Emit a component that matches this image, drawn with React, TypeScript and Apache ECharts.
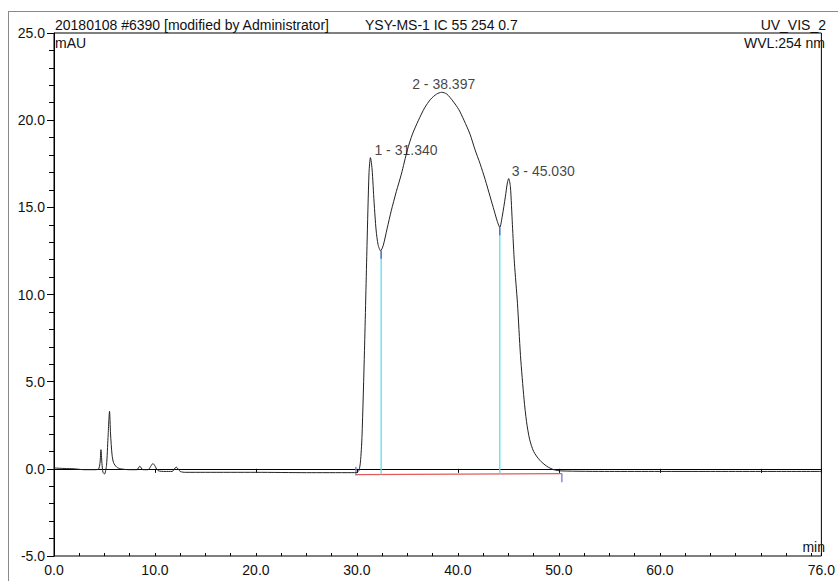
import React, { useEffect, useRef } from "react";
import * as echarts from "echarts";

// Chromatogram trace: retention time (min) and signal (mAU)
const traceTime = [
  0, 1, 2, 3, 4, 4.4, 4.55, 4.65, 4.75, 4.85, 5.0, 5.2, 5.35, 5.5, 5.6, 5.75, 5.9, 6.2, 6.6, 7.5,
  8.2, 8.5, 8.8, 9.3, 9.8, 10.3, 11.0, 11.7, 12.1, 12.5, 13, 15, 20, 25, 29.5, 30.0, 30.2, 30.35,
  30.5, 30.75, 31.0, 31.2, 31.34, 31.5, 31.7, 31.9, 32.1, 32.35, 32.6, 33.0, 33.4, 33.9, 34.4,
  35.0, 35.5, 36.1, 36.7, 37.3, 37.9, 38.4, 38.9, 39.5, 40.1, 40.6, 41.2, 41.7, 42.2, 42.7, 43.2,
  43.6, 43.9, 44.15, 44.4, 44.7, 44.9, 45.03, 45.2, 45.4, 45.6, 45.9, 46.2, 46.55, 46.8, 47.1,
  47.5, 48.1, 48.8, 49.5, 50.3, 55, 60, 65, 70, 76,
];
const traceValue = [
  0.05, 0.02, 0.0, -0.05, -0.05, -0.02, 0.3, 1.1, 0.3, -0.2, -0.3, 0.2, 1.8, 3.3, 2.0, 0.8, 0.35,
  0.1, 0.0, -0.05, -0.05, 0.15, -0.05, -0.05, 0.3, -0.1, -0.15, -0.15, 0.1, -0.15, -0.2, -0.2,
  -0.2, -0.22, -0.22, -0.2, -0.1, 0.4, 1.8, 6.8, 12.8, 17.0, 17.85, 17.2, 15.3, 13.7, 12.85, 12.5,
  12.8, 13.8, 14.8, 15.9, 16.9, 18.3, 19.2, 20.0, 20.7, 21.2, 21.5, 21.6, 21.5, 21.1, 20.6, 20.0,
  19.2, 18.3, 17.5, 16.6, 15.6, 14.8, 14.2, 13.85, 14.5, 15.6, 16.4, 16.65, 16.2, 14.0, 11.8,
  9.5, 6.5, 4.0, 2.7, 1.7, 1.0, 0.5, 0.15, -0.05, -0.12, -0.15, -0.15, -0.15, -0.15, -0.15,
];

// Peak annotations
const peakTimes = [31.34, 38.397, 45.03];
const peakHeights = [17.85, 21.6, 16.65];
const peakLabels = ["1 - 31.340", "2 - 38.397", "3 - 45.030"];

// Integration baseline and peak delimiters
const baselineTimes = [29.9, 50.3];
const baselineValues = [-0.33, -0.27];
const dropTimes = [32.4, 44.15];
const dropTops = [12.5, 13.85];

// Axis ticks
const xTickLabels = ["0.0", "10.0", "20.0", "30.0", "40.0", "50.0", "60.0", "76.0"];
const xMax = 76;
const yMin = -5;
const yMax = 25;

const FONT = "'Liberation Sans', Arial, sans-serif";
const FS = 14;

export default function App() {
  const ref = useRef<HTMLDivElement>(null);

  useEffect(() => {
    if (!ref.current) return;
    const chart = echarts.init(ref.current, null, { renderer: "svg" });

    const trace = traceTime.map((t, i) => [t, traceValue[i]]);
    const baseline = baselineTimes.map((t, i) => [t, baselineValues[i]]);
    const baseAt = (t: number) =>
      baselineValues[0] +
      ((t - baselineTimes[0]) / (baselineTimes[1] - baselineTimes[0])) *
        (baselineValues[1] - baselineValues[0]);

    const labelPos: any[] = [
      { align: "left", dx: 4 },
      { align: "center", dx: 2 },
      { align: "left", dx: 3 },
    ];

    const dropSeries = dropTimes.map((t, i) => ({
      type: "line",
      data: [
        [t, baseAt(t)],
        [t, dropTops[i]],
      ],
      showSymbol: false,
      lineStyle: { color: "#62dcec", width: 1.3 },
      z: 1,
    }));
    const dropCaps = dropTimes.map((t, i) => ({
      type: "line",
      data: [
        [t, dropTops[i] - 0.45],
        [t, dropTops[i]],
      ],
      showSymbol: false,
      lineStyle: { color: "#5a5ac8", width: 1.3 },
      z: 2,
    }));

    const markerSeries = baselineTimes.map((t, i) => ({
      type: "line",
      data:
        i === 0
          ? [
              [t, baselineValues[i] - 0.05],
              [t, baselineValues[i] + 0.45],
            ]
          : [
              [t, baselineValues[i] - 0.5],
              [t, baselineValues[i]],
            ],
      showSymbol: false,
      lineStyle: { color: "#7a7ad8", width: 1.3 },
      z: 1,
    }));

    chart.setOption({
      animation: false,
      grid: {
        left: 54,
        right: 11,
        top: 33,
        bottom: 25,
        show: true,
        borderColor: "#000",
        borderWidth: 1,
      },
      xAxis: [
        {
          type: "value",
          min: 0,
          max: xMax,
          interval: 10,
          axisLine: { lineStyle: { color: "#000", width: 1 } },
          axisTick: { show: true, length: 4, lineStyle: { color: "#000" } },
          splitLine: { show: false },
          axisLabel: {
            color: "#111",
            fontFamily: FONT,
            fontSize: FS,
            margin: 7,
            showMaxLabel: true,
            formatter: (v: number) => {
              const s = v.toFixed(1);
              return xTickLabels.indexOf(s) >= 0 ? s : "";
            },
          },
        },
        {
          type: "value",
          position: "bottom",
          min: 0,
          max: xMax,
          interval: 2.5,
          axisLine: { show: false },
          axisTick: { show: true, inside: true, length: 3, lineStyle: { color: "#000" } },
          axisLabel: { show: false },
          splitLine: { show: false },
        },
      ],
      yAxis: {
        type: "value",
        min: yMin,
        max: yMax,
        interval: 5,
        axisLine: { show: true, lineStyle: { color: "#000", width: 1 } },
        axisTick: { show: true, length: 7, lineStyle: { color: "#000" } },
        minorTick: { show: true, splitNumber: 5, length: 5, lineStyle: { color: "#000" } },
        splitLine: { show: false },
        axisLabel: {
          color: "#111",
          fontFamily: FONT,
          fontSize: FS,
          margin: 9,
          formatter: (v: number) => v.toFixed(1),
        },
      },
      series: [
        {
          type: "line",
          data: baseline,
          showSymbol: false,
          lineStyle: { color: "#e25a5a", width: 1.2 },
          z: 1,
        },
        ...dropSeries,
        ...dropCaps,
        ...markerSeries,
        {
          type: "line",
          data: trace,
          showSymbol: false,
          smooth: 0.25,
          lineStyle: { color: "#222", width: 1 },
          z: 3,
        },
        {
          type: "scatter",
          symbolSize: 0,
          z: 4,
          data: peakTimes.map((t, i) => ({
            value: [t, peakHeights[i]],
            label: {
              show: true,
              formatter: peakLabels[i],
              position: "top",
              align: labelPos[i].align,
              verticalAlign: "middle",
              offset: [labelPos[i].dx, -3],
              color: "#111",
              fontFamily: FONT,
              fontSize: FS,
            },
          })),
        },
      ],
      graphic: [
        { type: "line", shape: { x1: 8, y1: 11.5, x2: 838, y2: 11.5 }, style: { stroke: "#8a8a8a", lineWidth: 1 } },
        { type: "line", shape: { x1: 8.5, y1: 11, x2: 8.5, y2: 581 }, style: { stroke: "#8a8a8a", lineWidth: 1 } },
        {
          type: "text",
          x: 55,
          y: 25,
          style: { text: "20180108 #6390 [modified by Administrator]", fill: "#111", font: `${FS}px ${FONT}`, textVerticalAlign: "middle" },
        },
        {
          type: "text",
          x: 365,
          y: 25,
          style: { text: "YSY-MS-1 IC 55 254 0.7", fill: "#111", font: `${FS}px ${FONT}`, textVerticalAlign: "middle" },
        },
        {
          type: "text",
          x: 826,
          y: 25,
          style: { text: "UV_VIS_2", fill: "#111", font: `${FS}px ${FONT}`, textAlign: "right", textVerticalAlign: "middle" },
        },
        {
          type: "text",
          x: 55,
          y: 43,
          style: { text: "mAU", fill: "#111", font: `${FS}px ${FONT}`, textVerticalAlign: "middle" },
        },
        {
          type: "text",
          x: 825,
          y: 43,
          style: { text: "WVL:254 nm", fill: "#111", font: `${FS}px ${FONT}`, textAlign: "right", textVerticalAlign: "middle" },
        },
        {
          type: "text",
          x: 825,
          y: 547,
          style: { text: "min", fill: "#111", font: `${FS}px ${FONT}`, textAlign: "right", textVerticalAlign: "middle" },
        },
      ],
    });

    return () => chart.dispose();
  }, []);

  return (
    <div
      ref={ref}
      style={{ position: "fixed", left: 0, top: 0, width: 838, height: 581, background: "#fff" }}
    />
  );
}
